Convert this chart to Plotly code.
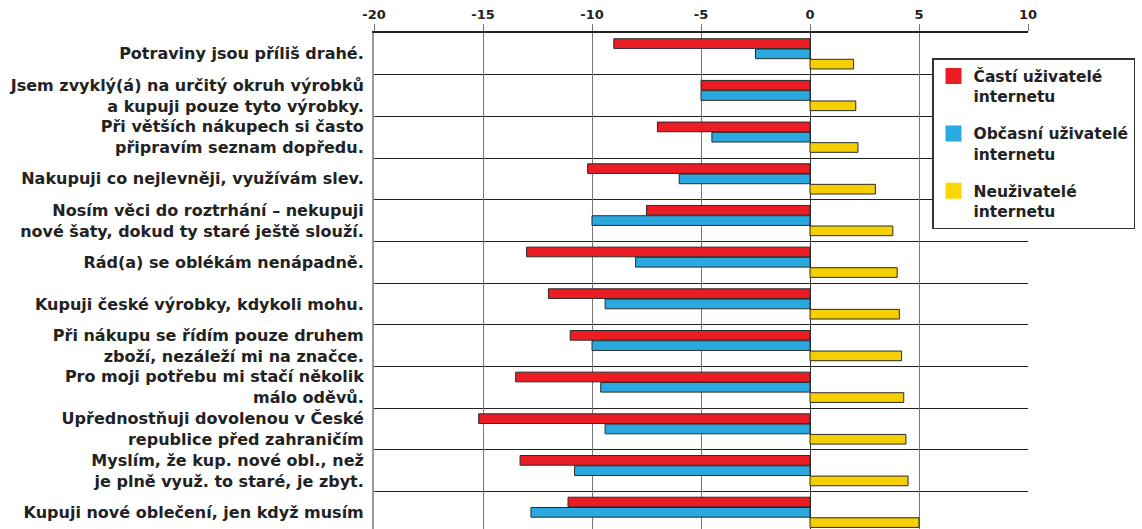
import plotly.graph_objects as go

categories = [
    "Potraviny jsou příliš drahé.",
    "Jsem zvyklý(á) na určitý okruh výrobků<br>a kupuji pouze tyto výrobky.",
    "Při větších nákupech si často<br>připravím seznam dopředu.",
    "Nakupuji co nejlevněji, využívám slev.",
    "Nosím věci do roztrhání – nekupuji<br>nové šaty, dokud ty staré ještě slouží.",
    "Rád(a) se oblékám nenápadně.",
    "Kupuji české výrobky, kdykoli mohu.",
    "Při nákupu se řídím pouze druhem<br>zboží, nezáleží mi na značce.",
    "Pro moji potřebu mi stačí několik<br>málo oděvů.",
    "Upřednostňuji dovolenou v České<br>republice před zahraničím",
    "Myslím, že kup. nové obl., než<br>je plně využ. to staré, je zbyt.",
    "Kupuji nové oblečení, jen když musím",
]

casti = [-9.0, -5.0, -7.0, -10.2, -7.5, -13.0, -12.0, -11.0, -13.5, -15.2, -13.3, -11.1]
obcasni = [-2.5, -5.0, -4.5, -6.0, -10.0, -8.0, -9.4, -10.0, -9.6, -9.4, -10.8, -12.8]
neuzivatele = [2.0, 2.1, 2.2, 3.0, 3.8, 4.0, 4.1, 4.2, 4.3, 4.4, 4.5, 5.0]

series_names = ["Častí uživatelé<br>internetu", "Občasní uživatelé<br>internetu", "Neuživatelé<br>internetu"]
series_values = [casti, obcasni, neuzivatele]
series_colors = ["#EC1C24", "#29A9E0", "#F5CF00"]
legend_colors = ["#ED1C24", "#29ABE2", "#FFD700"]

x_ticks = [-20, -15, -10, -5, 0, 5, 10]
x_tick_labels = ["-20", "-15", "-10", "-5", "0", "5", "10"]

ypos = list(range(len(categories)))

fig = go.Figure()
for i, (name, vals, col) in enumerate(zip(series_names, series_values, series_colors)):
    fig.add_trace(go.Bar(
        y=ypos, x=vals, orientation="h", name=name,
        marker=dict(color=col, line=dict(color="#2a2a2a", width=1)),
        legendgroup=f"g{i}", showlegend=False,
    ))
    # legend entry with a larger square swatch
    fig.add_trace(go.Scatter(
        x=[None], y=[None], mode="markers", name=name,
        marker=dict(symbol="square", size=16, color=legend_colors[i], line=dict(width=0)),
        legendgroup=f"g{i}", showlegend=True, hoverinfo="skip",
    ))

font_family = "DejaVu Sans, Liberation Sans, Arial, sans-serif"

fig.update_layout(
    width=1142, height=529,
    margin=dict(l=374, r=114, t=33, b=0, pad=0),
    paper_bgcolor="white", plot_bgcolor="white",
    barmode="group", bargap=0.26, bargroupgap=0.06,
    font=dict(family=font_family, color="#222"),
    showlegend=True,
    legend=dict(
        x=(932 - 374) / 654, y=1 - (58 - 33) / 496,
        xanchor="left", yanchor="top",
        bgcolor="white", bordercolor="#333", borderwidth=1.5,
        font=dict(size=15.5, weight="bold", color="#222", family=font_family),
        valign="top", tracegroupgap=14, traceorder="grouped",
        itemwidth=30, itemsizing="trace",
    ),
    xaxis=dict(
        side="top", range=[-20, 10], tickmode="array",
        tickvals=x_ticks, ticktext=x_tick_labels,
        ticks="outside", ticklen=7, tickcolor="#777", tickwidth=1,
        tickfont=dict(size=13, weight="bold", color="#222"),
        showgrid=True, gridcolor="#777", gridwidth=1,
        zeroline=True, zerolinecolor="#333", zerolinewidth=1.2,
        showline=True, linecolor="#222", linewidth=1.5,
        fixedrange=True,
    ),
    yaxis=dict(
        range=[len(categories) - 0.6, -0.5],
        tickmode="array", tickvals=ypos, ticktext=categories,
        ticks="", ticklabelstandoff=5,
        tickfont=dict(size=16, weight="bold", color="#222"),
        showgrid=False, zeroline=False,
        showline=True, linecolor="#999", linewidth=2,
        minor=dict(tickvals=[p + 0.5 for p in ypos], showgrid=True,
                   gridcolor="#222", gridwidth=1.2, ticks=""),
        fixedrange=True,
    ),
)

fig.write_html("out.html")
